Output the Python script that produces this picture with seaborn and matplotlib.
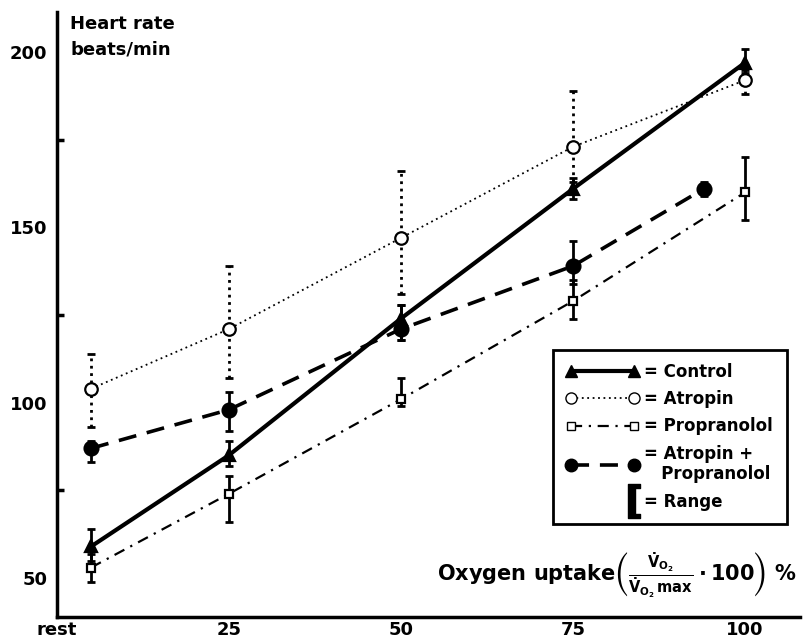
import matplotlib
matplotlib.use("Agg")
import numpy as np
import pandas as pd
import matplotlib.pyplot as plt
import seaborn as sns
from matplotlib.lines import Line2D

# Heart rate vs. relative oxygen uptake under autonomic blockade
uptake = [5, 25, 50, 75, 100]
uptake_ap = [5, 25, 50, 75, 94]
tick_pos = [0, 25, 50, 75, 100]
tick_labels = ["rest", "25", "50", "75", "100"]

control = [59, 85, 124, 161, 197]
control_lo = [55, 82, 118, 158, 194]
control_hi = [64, 89, 128, 164, 201]

atropin = [104, 121, 147, 173, 192]
atropin_lo = [93, 107, 131, 163, 188]
atropin_hi = [114, 139, 166, 189, 195]

propranolol = [53, 74, 101, 129, 160]
propranolol_lo = [49, 66, 99, 124, 152]
propranolol_hi = [57, 79, 107, 135, 170]

atr_prop = [87, 98, 121, 139, 161]
atr_prop_lo = [83, 92, 118, 134, 159]
atr_prop_hi = [89, 103, 128, 146, 163]

sns.set_theme(style="white")
plt.rcParams["font.family"] = ["DejaVu Sans"]
plt.rcParams["font.weight"] = "bold"
plt.rcParams["mathtext.default"] = "bf"
for key in ["text.color", "axes.labelcolor", "xtick.color", "ytick.color"]:
    plt.rcParams[key] = "black"

fig = plt.figure(figsize=(8.09, 6.42), dpi=100)
ax = fig.add_axes([0.070, 0.039, 0.919, 0.942])

series = [
    dict(x=uptake, y=control, lo=control_lo, hi=control_hi, ls="-", lw=3.0,
         marker="^", ms=9, mfc="black", rls="-"),
    dict(x=uptake, y=atropin, lo=atropin_lo, hi=atropin_hi, ls=(0, (1, 2)), lw=1.3,
         marker="o", ms=9, mfc="white", rls=":"),
    dict(x=uptake, y=propranolol, lo=propranolol_lo, hi=propranolol_hi,
         ls=(0, (5, 3, 1, 3)), lw=1.6, marker="s", ms=6, mfc="white", rls="-"),
    dict(x=uptake_ap, y=atr_prop, lo=atr_prop_lo, hi=atr_prop_hi, ls=(0, (5, 3)),
         lw=2.6, marker="o", ms=10, mfc="black", rls="-"),
]

for s in series:
    y = np.array(s["y"])
    yerr = [y - np.array(s["lo"]), np.array(s["hi"]) - y]
    eb = ax.errorbar(s["x"], y, yerr=yerr, fmt="none", ecolor="black",
                     elinewidth=2.0, capsize=3, capthick=2.0, zorder=2)
    eb[2][0].set_linestyle(s["rls"])
    sns.lineplot(x=s["x"], y=s["y"], ax=ax, color="black", linestyle=s["ls"],
                 linewidth=s["lw"], marker=s["marker"], markersize=s["ms"],
                 markerfacecolor=s["mfc"], markeredgecolor="black",
                 markeredgewidth=1.6, zorder=3)

ax.set_xlim(0, 108)
ax.set_ylim(38.9, 211.4)
ax.set_xticks(tick_pos)
ax.set_xticklabels(tick_labels)
ax.set_yticks([50, 100, 150, 200])
ax.set_yticks([75, 125, 175], minor=True)
ax.tick_params(axis="both", which="major", labelsize=13, direction="inout",
               length=7, width=2, pad=3, colors="black")
ax.tick_params(axis="y", which="minor", direction="in", length=5, width=2.5,
               left=True)
ax.tick_params(axis="x", which="major", direction="in", length=6)
for lab in ax.get_xticklabels() + ax.get_yticklabels():
    lab.set_fontweight("bold")

for side in ["top", "right"]:
    ax.spines[side].set_visible(False)
for side in ["left", "bottom"]:
    ax.spines[side].set_linewidth(2.5)
    ax.spines[side].set_color("black")

ax.set_xlabel("")
ax.set_ylabel("")

ax.text(0.018, 0.995, "Heart rate\nbeats/min", transform=ax.transAxes,
        ha="left", va="top", fontsize=13, fontweight="bold", linespacing=1.5)

ax.text(0.995, 0.028,
        r"Oxygen uptake$\left(\frac{\dot V_{O_2}}{\dot V_{O_2}\,max}\cdot 100\right)$ %",
        transform=ax.transAxes, ha="right", va="bottom", fontsize=15,
        fontweight="bold")

handles = [
    Line2D([], [], color="black", lw=3.0, ls="-", marker="^", ms=8,
           mfc="black", mec="black"),
    Line2D([], [], color="black", lw=1.3, ls=(0, (1, 2)), marker="o", ms=8,
           mfc="white", mec="black"),
    Line2D([], [], color="black", lw=1.6, ls=(0, (5, 3, 1, 3)), marker="s", ms=6,
           mfc="white", mec="black"),
    Line2D([], [], color="black", lw=2.6, ls=(0, (5, 3)), marker="o", ms=9,
           mfc="black", mec="black"),
    Line2D([], [], color="black", ls="none", marker="$[$", ms=24),
]
labels = ["= Control", "= Atropin", "= Propranolol",
          "= Atropin +\n   Propranolol", "= Range"]
leg = ax.legend(handles, labels, loc="lower right", bbox_to_anchor=(0.993, 0.14),
                frameon=True, fancybox=False, framealpha=1, edgecolor="black",
                handlelength=4.4, fontsize=12, borderpad=0.8, labelspacing=0.55,
                handletextpad=0.3, numpoints=2, markerfirst=True)
leg.get_frame().set_linewidth(2)
for t in leg.get_texts():
    t.set_fontweight("bold")
# the range bracket is a single glyph, not a pair
leg.legend_handles[-1].set_markevery([1])

fig.savefig("out.png", dpi=100, facecolor="white")
